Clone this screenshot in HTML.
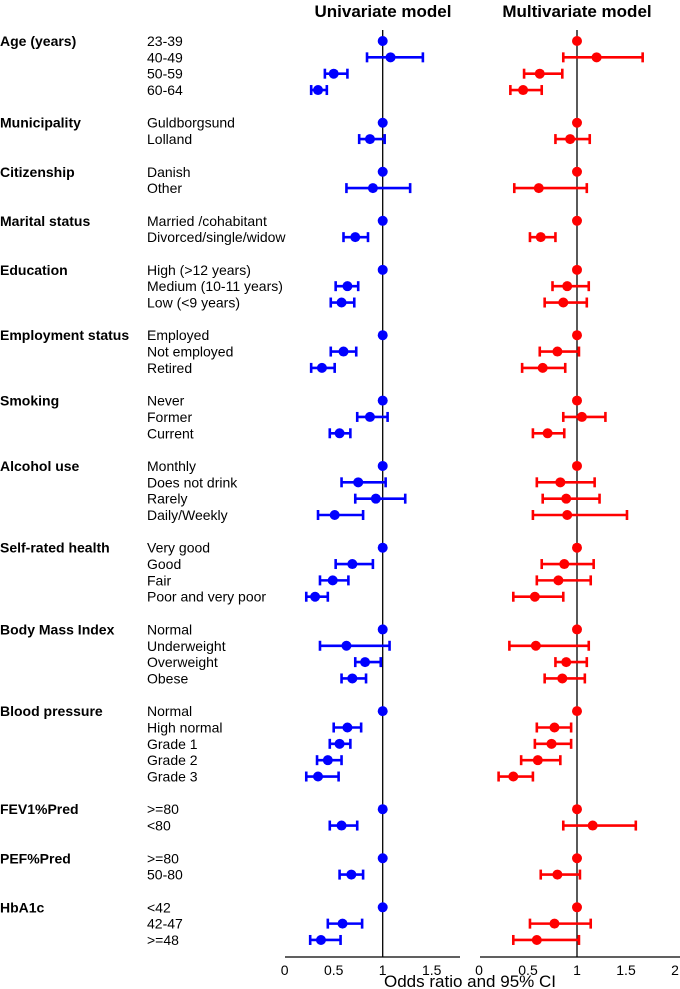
<!DOCTYPE html>
<html><head><meta charset="utf-8">
<style>
html,body{margin:0;padding:0;background:#fff;}
svg{display:block;font-family:"Liberation Sans",Arial,sans-serif;}
</style></head>
<body>
<svg id="chart" width="680" height="989" viewBox="0 0 680 989" xmlns="http://www.w3.org/2000/svg"></svg>
<script>
const groups = ["Age (years)","Municipality","Citizenship","Marital status","Education","Employment status","Smoking","Alcohol use","Self-rated health","Body Mass Index","Blood pressure","FEV1%Pred","PEF%Pred","HbA1c"];
const categories = [
 ["23-39","40-49","50-59","60-64"],
 ["Guldborgsund","Lolland"],
 ["Danish","Other"],
 ["Married /cohabitant","Divorced/single/widow"],
 ["High (>12 years)","Medium (10-11 years)","Low (<9 years)"],
 ["Employed","Not employed","Retired"],
 ["Never","Former","Current"],
 ["Monthly","Does not drink","Rarely","Daily/Weekly"],
 ["Very good","Good","Fair","Poor and very poor"],
 ["Normal","Underweight","Overweight","Obese"],
 ["Normal","High normal","Grade 1","Grade 2","Grade 3"],
 [">=80","<80"],
 [">=80","50-80"],
 ["<42","42-47",">=48"]
];
const uniOR = [1,1.08,0.50,0.34, 1,0.87, 1,0.90, 1,0.72, 1,0.64,0.58, 1,0.60,0.38, 1,0.87,0.56, 1,0.75,0.93,0.51, 1,0.69,0.49,0.31, 1,0.63,0.82,0.69, 1,0.64,0.56,0.44,0.34, 1,0.58, 1,0.68, 1,0.59,0.37];
const uniLo = [null,0.84,0.41,0.27, null,0.76, null,0.63, null,0.60, null,0.52,0.47, null,0.47,0.27, null,0.74,0.46, null,0.58,0.72,0.34, null,0.52,0.36,0.22, null,0.36,0.72,0.58, null,0.50,0.46,0.33,0.22, null,0.46, null,0.56, null,0.44,0.26];
const uniHi = [null,1.41,0.64,0.43, null,1.02, null,1.28, null,0.85, null,0.75,0.71, null,0.73,0.51, null,1.05,0.67, null,1.03,1.23,0.80, null,0.90,0.65,0.44, null,1.07,0.98,0.83, null,0.78,0.67,0.58,0.55, null,0.74, null,0.80, null,0.79,0.57];
const mulOR = [1,1.20,0.62,0.45, 1,0.93, 1,0.61, 1,0.63, 1,0.90,0.86, 1,0.80,0.65, 1,1.05,0.70, 1,0.83,0.89,0.90, 1,0.87,0.81,0.57, 1,0.58,0.89,0.85, 1,0.77,0.74,0.60,0.35, 1,1.16, 1,0.80, 1,0.77,0.59];
const mulLo = [null,0.86,0.46,0.32, null,0.78, null,0.36, null,0.52, null,0.75,0.67, null,0.62,0.44, null,0.86,0.55, null,0.59,0.65,0.55, null,0.64,0.59,0.35, null,0.31,0.78,0.67, null,0.59,0.57,0.43,0.20, null,0.86, null,0.63, null,0.52,0.35];
const mulHi = [null,1.67,0.85,0.64, null,1.13, null,1.10, null,0.78, null,1.12,1.10, null,1.02,0.88, null,1.29,0.87, null,1.18,1.23,1.51, null,1.17,1.14,0.86, null,1.12,1.10,1.08, null,0.94,0.94,0.83,0.55, null,1.60, null,1.03, null,1.14,1.02];
const uniTicks = ["0","0.5","1","1.5"];
const mulTicks = ["0","0.5","1","1.5","2"];

const NS="http://www.w3.org/2000/svg";
const svg=document.getElementById('chart');
function mk(tag,attrs,txt){const e=document.createElementNS(NS,tag);for(const k in attrs)e.setAttribute(k,attrs[k]);if(txt!==undefined)e.textContent=txt;svg.appendChild(e);return e;}
const PX=98;
const xUni=v=>284.7+PX*v;
const xMul=v=>479+PX*v;
const rowY=i=>41+16.345*i;

const rows=[];let r=0;
groups.forEach((g,gi)=>{categories[gi].forEach((c,ci)=>{rows.push({gi,ci,row:r});r++;});r++;});

let t=mk('text',{x:383,y:17,'text-anchor':'middle','font-size':17,'font-weight':'bold'},"Univariate model");


t=mk('text',{x:577,y:17,'text-anchor':'middle','font-size':17,'font-weight':'bold'},"Multivariate model");



groups.forEach((g,gi)=>{
  const first=rows.find(o=>o.gi===gi);
  const e=mk('text',{x:0,y:rowY(first.row)+5,'font-size':14,'font-weight':'bold'},g);
  
  
});
rows.forEach(o=>{
  const e=mk('text',{x:147,y:rowY(o.row)+5,'font-size':14},categories[o.gi][o.ci]);
  
  
});

function axis(xf,x0,x1,ticks,name){
  let l=mk('line',{x1:x0,y1:957,x2:x1,y2:957,stroke:'#000','stroke-width':1.2});
  
  
  ticks.forEach(tk=>{
    const e=mk('text',{x:xf(parseFloat(tk)),y:975,'text-anchor':'middle','font-size':14},tk);
    
    
  });
  l=mk('line',{x1:xf(1),y1:30,x2:xf(1),y2:957,stroke:'#000','stroke-width':1.3});
  
  
}
axis(xUni,285,460,uniTicks,'univariate');
axis(xMul,480,680,mulTicks,'multivariate');

function series(xf,or,lo,hi,col,name){
  rows.forEach((o,i)=>{
    const y=rowY(o.row);
    if(lo[i]!==null){
      const a=xf(lo[i]),b=xf(hi[i]);
      let e=mk('line',{x1:a,y1:y,x2:b,y2:y,stroke:col,'stroke-width':2.6});
      
      
      [a,b].forEach(x=>{
        const c=mk('line',{x1:x,y1:y-5,x2:x,y2:y+5,stroke:col,'stroke-width':2.6});
        
        
      });
    }
    const p=mk('circle',{cx:xf(or[i]),cy:y,r:5,fill:col});
    
    
  });
}
series(xUni,uniOR,uniLo,uniHi,'#0000ff','univariate');
series(xMul,mulOR,mulLo,mulHi,'#ff0000','multivariate');

t=mk('text',{x:470,y:987,'text-anchor':'middle','font-size':17},"Odds ratio and 95% CI");


</script>
</body></html>
